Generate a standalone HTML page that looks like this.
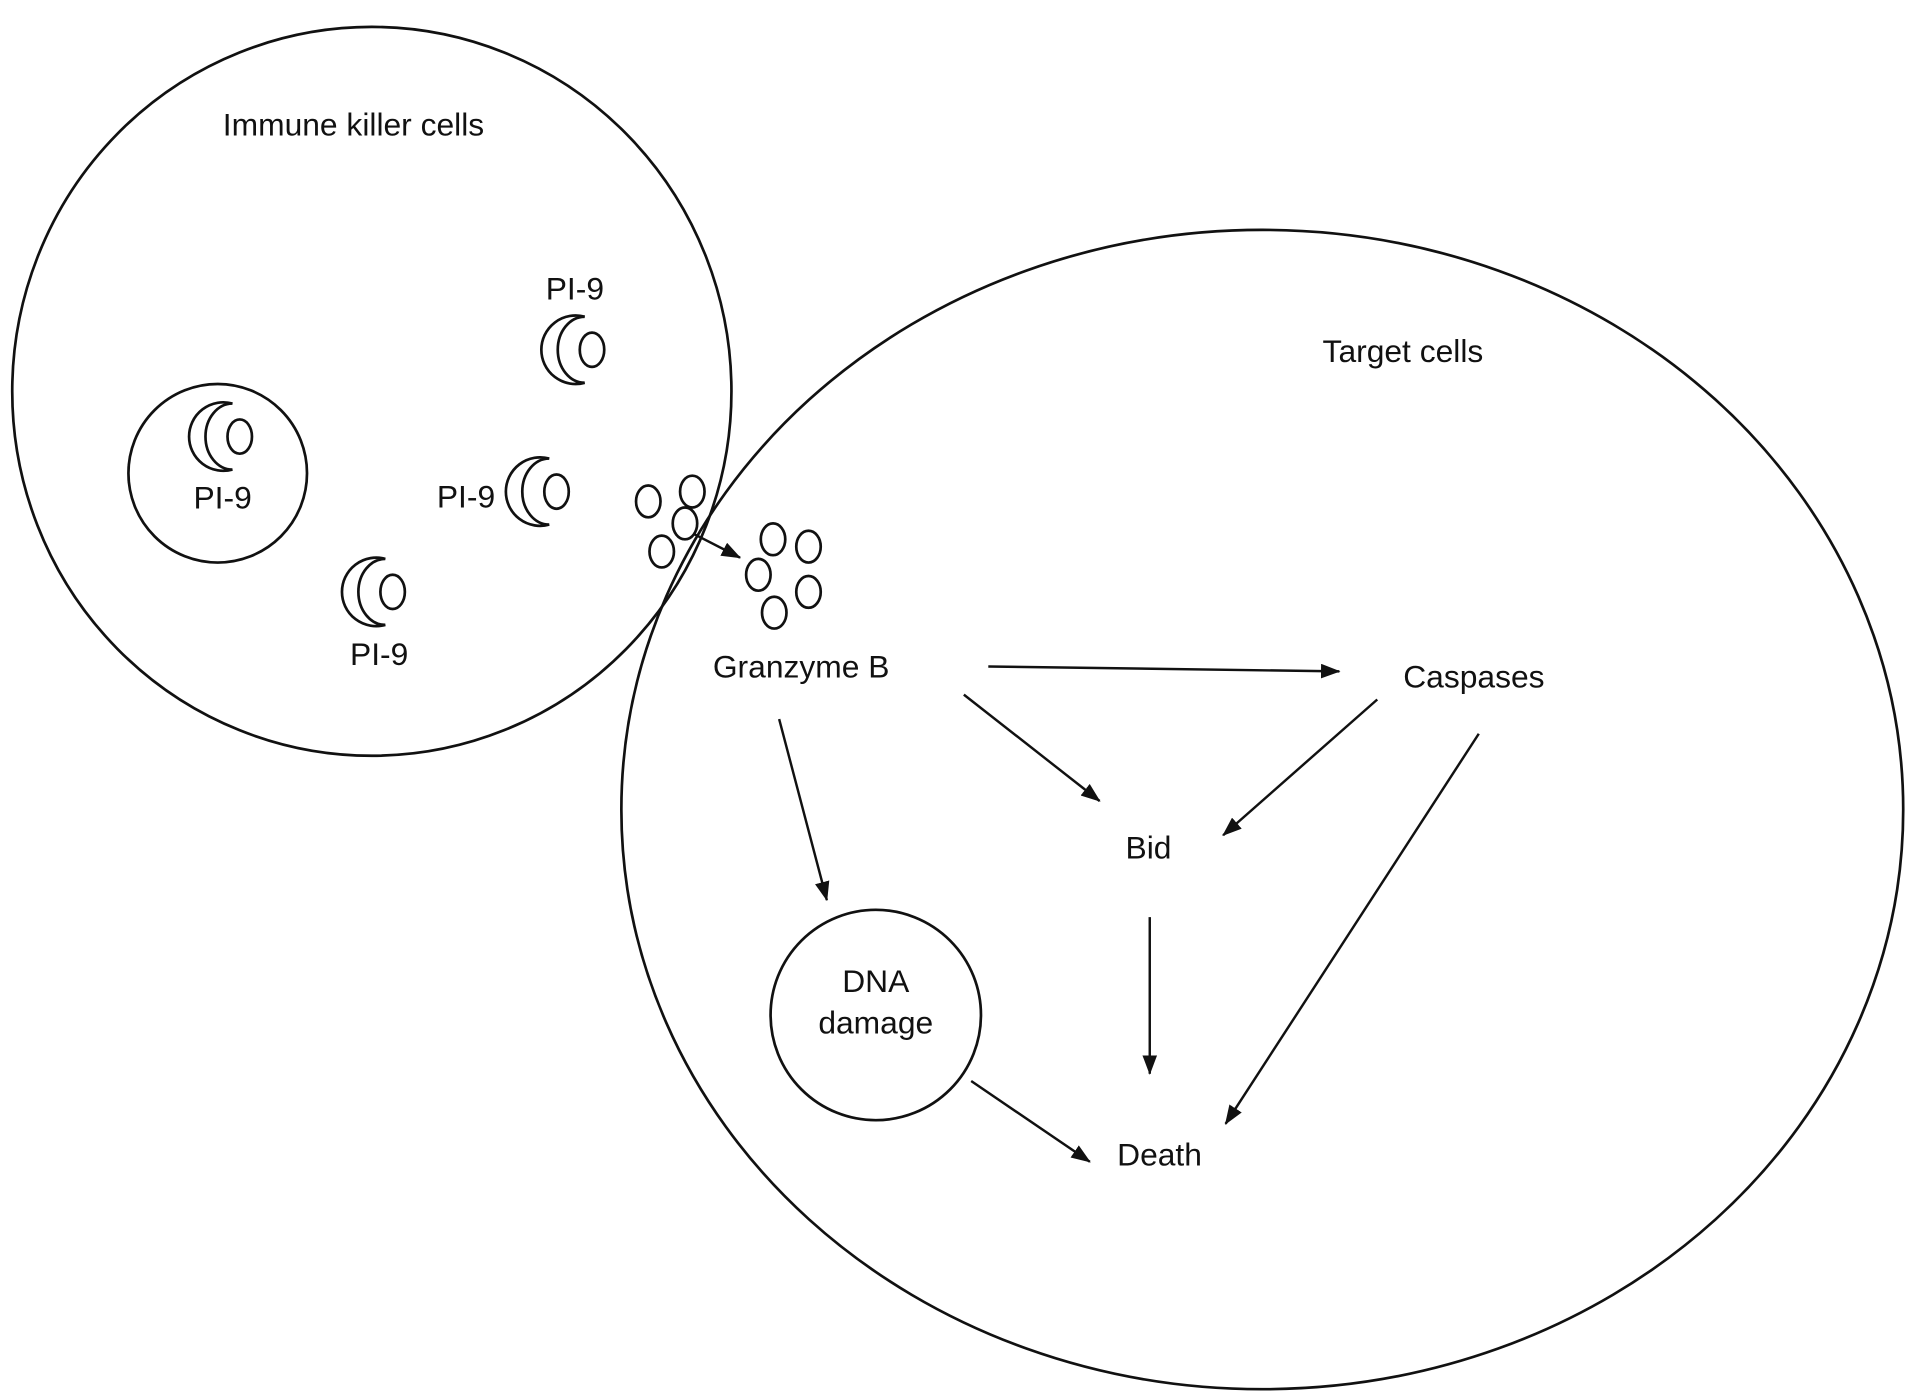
<!DOCTYPE html>
<html><head><meta charset="utf-8"><style>
html,body{margin:0;padding:0;background:#fff;}
svg{display:block;}
text{font-family:"Liberation Sans",Arial,sans-serif;font-size:26px;fill:#111;text-anchor:middle;}
</style></head><body>
<svg width="1913" height="1399" viewBox="0 0 1564 1144" preserveAspectRatio="none" xmlns="http://www.w3.org/2000/svg">
<defs>
<marker id="a" markerWidth="10" markerHeight="10" refX="9" refY="5" orient="auto" markerUnits="userSpaceOnUse">
<path d="M0,0 L10,5 L0,10 z" fill="#111"/>
</marker>
<marker id="b" markerWidth="16" markerHeight="12" refX="15" refY="6" orient="auto" markerUnits="userSpaceOnUse">
<path d="M0,0 L16,6 L0,12 z" fill="#111"/>
</marker>
<g id="cr">
<path d="M12,-27 A28,28 0 1 0 12,27 A22,27 0 0 1 12,-27 Z" fill="none" stroke="#111" stroke-width="2.2"/>
<ellipse cx="18" cy="0" rx="10" ry="14" fill="none" stroke="#111" stroke-width="2.2"/>
</g>
<ellipse id="g" cx="0" cy="0" rx="10" ry="13" fill="none" stroke="#111" stroke-width="2.2"/>
</defs>
<g fill="none" stroke="#111" stroke-width="2.2">
<ellipse cx="304" cy="320" rx="294" ry="298"/>
<ellipse cx="1032" cy="662" rx="524" ry="474"/>
<circle cx="178" cy="387" r="73"/>
<circle cx="716" cy="830" r="86"/>
</g>
<text x="289" y="111">Immune killer cells</text>
<text x="1147" y="296">Target cells</text>
<use href="#cr" x="178" y="357"/>
<text x="182" y="416">PI-9</text>
<use href="#cr" x="466" y="286"/>
<text x="470" y="245">PI-9</text>
<use href="#cr" x="437" y="402"/>
<text x="381" y="415">PI-9</text>
<use href="#cr" x="303" y="484"/>
<text x="310" y="544">PI-9</text>
<use href="#g" x="530" y="410"/>
<use href="#g" x="566" y="402"/>
<use href="#g" x="560" y="428"/>
<use href="#g" x="541" y="451"/>
<use href="#g" x="632" y="441"/>
<use href="#g" x="661" y="447"/>
<use href="#g" x="620" y="470"/>
<use href="#g" x="661" y="484"/>
<use href="#g" x="633" y="501"/>
<text x="655" y="554">Granzyme B</text>
<text x="1205" y="562">Caspases</text>
<text x="939" y="702">Bid</text>
<text x="948" y="953">Death</text>
<text x="716" y="811">DNA</text>
<text x="716" y="845">damage</text>
<g stroke="#111" stroke-width="2" fill="none">
<line x1="568" y1="437" x2="605" y2="456" marker-end="url(#b)"/>
<line x1="808" y1="545" x2="1095" y2="549" marker-end="url(#b)"/>
<line x1="788" y1="568" x2="899" y2="655" marker-end="url(#b)"/>
<line x1="1126" y1="572" x2="1000" y2="683" marker-end="url(#b)"/>
<line x1="637" y1="588" x2="676" y2="736" marker-end="url(#b)"/>
<line x1="940" y1="750" x2="940" y2="878" marker-end="url(#b)"/>
<line x1="1209" y1="600" x2="1002" y2="919" marker-end="url(#b)"/>
<line x1="794" y1="884" x2="891" y2="950" marker-end="url(#b)"/>
</g>
</svg>
</body></html>
